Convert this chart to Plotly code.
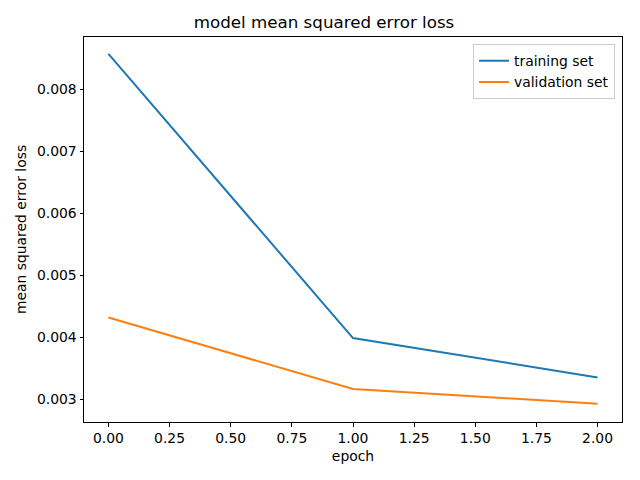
import plotly.graph_objects as go

epochs = [0, 1, 2]
training_loss = [0.00857, 0.003984, 0.003348]
validation_loss = [0.004316, 0.003161, 0.002924]
x_ticks = [0.0, 0.25, 0.5, 0.75, 1.0, 1.25, 1.5, 1.75, 2.0]
x_tick_labels = ["0.00", "0.25", "0.50", "0.75", "1.00", "1.25", "1.50", "1.75", "2.00"]
y_ticks = [0.003, 0.004, 0.005, 0.006, 0.007, 0.008]
y_tick_labels = ["0.003", "0.004", "0.005", "0.006", "0.007", "0.008"]

font = "DejaVu Sans"
fs = 13.9
fig = go.Figure()
fig.add_trace(go.Scatter(x=epochs, y=training_loss, mode="lines", name="training set",
                         line=dict(color="#1f77b4", width=2)))
fig.add_trace(go.Scatter(x=epochs, y=validation_loss, mode="lines", name="validation set",
                         line=dict(color="#ff7f0e", width=2)))

axis_common = dict(showgrid=False, zeroline=False, showline=True, linecolor="black", linewidth=1,
                   mirror=True, ticks="outside", ticklen=3.5, tickwidth=0.8, tickcolor="black",
                   tickfont=dict(family=font, size=fs, color="black"))
fig.update_layout(
    width=632, height=472,
    margin=dict(l=76, r=18, t=29, b=58),
    paper_bgcolor="white", plot_bgcolor="white",
    font=dict(family=font, size=fs, color="black"),
    title=dict(text="model mean squared error loss", x=0.5, xanchor="center",
               y=1 - 14 / 472, yanchor="middle", font=dict(family=font, size=16.7, color="black")),
    xaxis=dict(range=[-0.1, 2.1], tickvals=x_ticks, ticktext=x_tick_labels,
               title=dict(text="epoch", font=dict(family=font, size=fs, color="black"), standoff=6),
               **axis_common),
    yaxis=dict(range=[0.002629, 0.008844], tickvals=y_ticks, ticktext=y_tick_labels,
               title=dict(text="mean squared error loss", font=dict(family=font, size=fs, color="black"), standoff=7),
               **axis_common),
    legend=dict(x=0.987, y=0.981, xanchor="right", yanchor="top", bgcolor="rgba(255,255,255,0.8)",
                bordercolor="#cccccc", borderwidth=1, font=dict(family=font, size=fs, color="black")),
    showlegend=True,
)
fig.write_html("out.html")
